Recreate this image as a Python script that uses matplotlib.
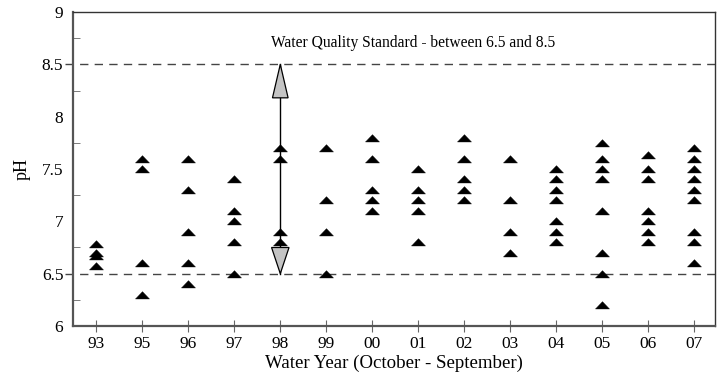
import numpy as np
import matplotlib
matplotlib.use("Agg")
import matplotlib.pyplot as plt
from matplotlib.patches import Polygon
import matplotlib.transforms as mtransforms

plt.rcParams["font.family"] = ["Liberation Serif", "DejaVu Serif"]

# pH samples per water year
years = ["93", "95", "96", "97", "98", "99", "00", "01", "02", "03", "04", "05", "06", "07"]
ph_93 = [6.78, 6.70, 6.67, 6.57]
ph_95 = [7.6, 7.5, 6.6, 6.3]
ph_96 = [7.6, 7.3, 6.9, 6.6, 6.4]
ph_97 = [7.4, 7.1, 7.0, 6.8, 6.5]
ph_98 = [7.7, 7.6, 6.9, 6.8]
ph_99 = [7.7, 7.2, 6.9, 6.5]
ph_00 = [7.8, 7.6, 7.3, 7.2, 7.1]
ph_01 = [7.5, 7.3, 7.2, 7.1, 6.8]
ph_02 = [7.8, 7.6, 7.4, 7.3, 7.2]
ph_03 = [7.6, 7.2, 6.9, 6.7]
ph_04 = [7.5, 7.4, 7.3, 7.2, 7.0, 6.9, 6.8]
ph_05 = [7.75, 7.6, 7.5, 7.4, 7.1, 6.7, 6.5, 6.2]
ph_06 = [7.63, 7.5, 7.4, 7.1, 7.0, 6.9, 6.8]
ph_07 = [7.7, 7.6, 7.5, 7.4, 7.3, 7.2, 6.9, 6.8, 6.6]
samples = [ph_93, ph_95, ph_96, ph_97, ph_98, ph_99, ph_00, ph_01,
           ph_02, ph_03, ph_04, ph_05, ph_06, ph_07]

y_ticks = [6, 6.5, 7, 7.5, 8, 8.5, 9]
y_ticklabels = ["6", "6.5", "7", "7.5", "8", "8.5", "9"]
y_minor = [6.25, 6.75, 7.25, 7.75, 8.25, 8.75]

std_low, std_high = 6.5, 8.5
band_year = "98"

fig = plt.figure(figsize=(7.23, 3.72), dpi=100)
ax = fig.add_axes([0.101, 0.1237, 0.888, 0.844])

# flat filled triangle marker
tri = [(-1.0, -0.5), (1.0, -0.5), (0.0, 0.55), (-1.0, -0.5)]
for i, vals in enumerate(samples):
    ax.plot([i] * len(vals), vals, linestyle="none", marker=tri, markersize=10,
            color="black", markeredgewidth=0.3, zorder=3)

# standard limits, nudged out past the left spine
trans = mtransforms.blended_transform_factory(ax.transAxes, ax.transData)
for lev in (std_low, std_high):
    ax.plot([-0.012, 1.0], [lev, lev], transform=trans, clip_on=False,
            color="#444444", lw=1.0, dashes=(6, 4.5), zorder=2)

# double arrow spanning the standard range
xb = years.index(band_year)
ax.plot([xb, xb], [std_low, std_high], color="black", lw=1.0, zorder=4)
ax.add_patch(Polygon([(xb, std_high), (xb - 0.17, 8.18), (xb + 0.17, 8.18)],
                     closed=True, fc="#c4c4c4", ec="black", lw=0.9, zorder=5))
ax.add_patch(Polygon([(xb, std_low), (xb - 0.19, 6.75), (xb + 0.19, 6.75)],
                     closed=True, fc="#c4c4c4", ec="black", lw=0.9, zorder=5))
ax.text(xb - 0.21, 8.70, "Water Quality Standard - between 6.5 and 8.5",
        ha="left", va="center", fontsize=11.2)

ax.set_xlim(-0.51, 13.46)
ax.set_ylim(6, 9)
ax.set_xticks(range(len(years)))
ax.set_xticklabels(years)
ax.set_yticks(y_ticks)
ax.set_yticklabels(y_ticklabels)
ax.set_yticks(y_minor, minor=True)
ax.tick_params(axis="y", which="major", length=0, labelsize=12.5, pad=7)
ax.tick_params(axis="y", which="minor", direction="in", length=5, color="#666666")
ax.tick_params(axis="x", which="major", direction="inout", length=8, color="#666666",
               labelsize=12.5, pad=3)
ax.set_xlabel("Water Year (October - September)", fontsize=13.6, labelpad=2)
ax.set_ylabel("pH", fontsize=13, labelpad=8)

for side in ("left", "bottom"):
    ax.spines[side].set_color("#555555")
    ax.spines[side].set_linewidth(1.6)
for side in ("top", "right"):
    ax.spines[side].set_color("#333333")
    ax.spines[side].set_linewidth(1.0)

fig.savefig("out.png", dpi=100)
